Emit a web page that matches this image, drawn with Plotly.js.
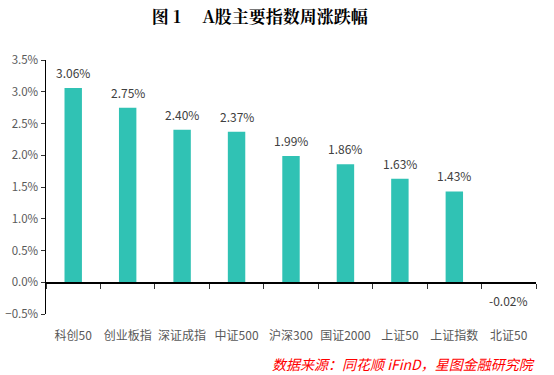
<!DOCTYPE html>
<html><head><meta charset="utf-8">
<script src="https://cdn.plot.ly/plotly-3.0.1.min.js"></script>
<style>body{margin:0;background:#fff}#c{width:554px;height:375px}</style>
</head><body><div id="c"></div>
<script>
const categories = ["科创50","创业板指","深证成指","中证500","沪深300","国证2000","上证50","上证指数","北证50"];
const weeklyChange = [3.06, 2.75, 2.40, 2.37, 1.99, 1.86, 1.63, 1.43, -0.02];
const titleText = "图 1　 A股主要指数周涨跌幅";
const sourceText = "数据来源：同花顺 iFinD，星图金融研究院";

const font = "Noto Sans CJK SC, DejaVu Sans, sans-serif";
const trace = {
  type: "bar", x: categories, y: weeklyChange,
  marker: {color: "#30C2B4", line: {width: 0}},
  width: 0.32,
  hoverinfo: "skip"
};
const labelAnns = categories.map((c, i) => ({
  x: c, y: weeklyChange[i], xref: "x", yref: "y",
  text: weeklyChange[i].toFixed(2) + "%", showarrow: false,
  yanchor: weeklyChange[i] >= 0 ? "bottom" : "top",
  yshift: weeklyChange[i] >= 0 ? 5 : -6,
  font: {family: font, size: 12, color: "#404040"}
}));
const layout = {
  width: 554, height: 375,
  margin: {l: 46, r: 18, t: 60, b: 61},
  paper_bgcolor: "#fff", plot_bgcolor: "#fff",
  showlegend: false,
  title: {text: "<b>" + titleText + "</b>", x: 0.469, xanchor: "center", y: 0.955, yanchor: "middle",
          font: {family: "Noto Serif CJK SC, Noto Sans CJK SC, serif", size: 17, color: "#000"}},
  xaxis: {
    type: "category", anchor: "free", position: 0.125,
    showline: true, linecolor: "#000", linewidth: 1.5,
    ticks: "outside", tickson: "boundaries", ticklen: 5, tickcolor: "#333", tickwidth: 1,
    tickangle: 0, ticklabelstandoff: 42,
    tickfont: {family: font, size: 12, color: "#595959"},
    showgrid: false, zeroline: false, fixedrange: true
  },
  yaxis: {
    range: [-0.5, 3.5], dtick: 0.5, tickformat: ".1f", ticksuffix: "%",
    showline: true, linecolor: "#000", linewidth: 1.5,
    ticks: "outside", ticklen: 4, tickcolor: "#333",
    tickfont: {family: font, size: 11.5, color: "#595959"},
    showgrid: false, zeroline: false, fixedrange: true
  },
  annotations: labelAnns.concat([{
    text: "<i>" + sourceText + "</i>", xref: "paper", yref: "paper",
    x: 1.003, xanchor: "right", y: -0.195, yanchor: "middle", showarrow: false,
    font: {family: font, size: 14, color: "#FF0000"}
  }])
};
Plotly.newPlot("c", [trace], layout, {staticPlot: true});
</script></body></html>
